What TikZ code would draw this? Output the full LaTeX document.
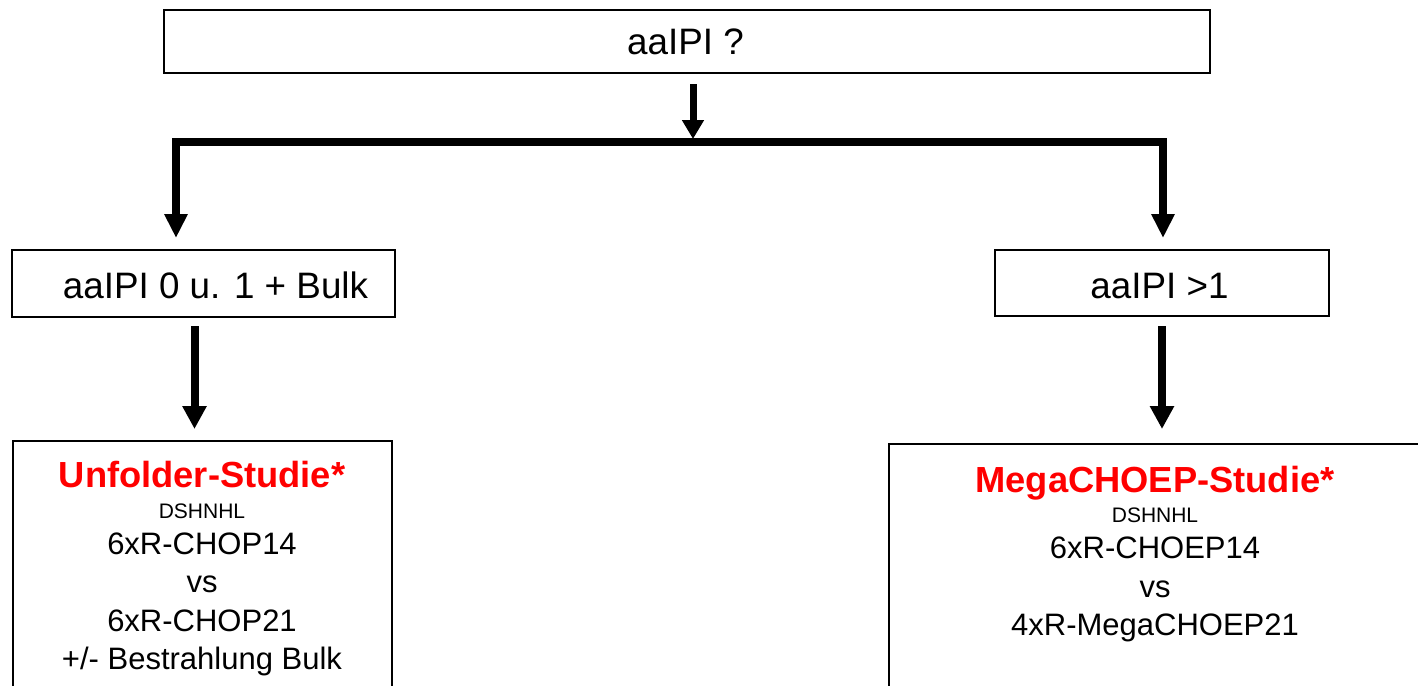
\documentclass[tikz,border=0pt]{standalone}
\usepackage{fontspec}
\setmainfont{Liberation Sans}
\usetikzlibrary{arrows.meta}
\definecolor{studred}{RGB}{255,0,0}
\begin{document}
\begin{tikzpicture}[x=1pt,y=-1pt,
  box/.style={draw=black,line width=2pt,inner sep=0pt},
  txt/.style={anchor=base,inner sep=0pt,font=\fontsize{31}{36}\selectfont},
  big/.style={anchor=base,inner sep=0pt,font=\fontsize{36.8}{42}\selectfont},
  ttl/.style={anchor=base,inner sep=0pt,text=studred,font=\fontsize{36.3}{42}\selectfont\bfseries},
  sml/.style={anchor=base,inner sep=0pt,font=\fontsize{21}{24}\selectfont},
  arr/.style={line width=7pt,-{Triangle[width=21pt,length=19pt]}},
  arrb/.style={line width=8pt,-{Triangle[width=23pt,length=23pt]}},
  bar/.style={line width=8pt,{Triangle[width=22pt,length=24pt]}-{Triangle[width=22pt,length=24pt]},line join=miter}]
\useasboundingbox (0,0) rectangle (1418,685);
\clip (0,0) rectangle (1418,685);
% boxes
\node[box,minimum width=1046pt,minimum height=63pt] (top) at (687,41.5) {};
\node[big] (toptxt) at (685.5,55) {aaIPI ?};
\node[box,minimum width=383pt,minimum height=67pt] (left) at (203.5,283.5) {};
\node[big] (lefttxt) at (215.5,298) {aaIPI 0 u. 1 + Bulk};
\node[box,minimum width=334pt,minimum height=66pt] (right) at (1162,283) {};
\node[big] (righttxt) at (1159.5,298) {aaIPI >1};
\node[box,minimum width=379pt,minimum height=300pt] (lbot) at (202.5,591) {};
\node[box,minimum width=540pt,minimum height=300pt] (rbot) at (1159,594) {};
% left bottom texts
\node[ttl] (l1) at (202,487) {Unfolder-Studie*};
\node[sml] (l2) at (202,518) {DSHNHL};
\node[txt] (l3) at (202,554) {6xR-CHOP14};
\node[txt] (l4) at (202,592) {vs};
\node[txt] (l5) at (202,631) {6xR-CHOP21};
\node[txt] (l6) at (202,669) {+/- Bestrahlung Bulk};
% right bottom texts
\node[ttl] (r1) at (1155,492) {MegaCHOEP-Studie*};
\node[sml] (r2) at (1155,522) {DSHNHL};
\node[txt] (r3) at (1155,558) {6xR-CHOEP14};
\node[txt] (r4) at (1155,597) {vs};
\node[txt] (r5) at (1155,635) {4xR-MegaCHOEP21};
% connectors
\coordinate (split) at (693,139);
\coordinate (lc) at (176,142);
\coordinate (rc) at (1163,142);
\coordinate (ltip) at (176,238);
\coordinate (rtip) at (1163,238);
\draw[bar] (ltip) -- (lc) -- (rc) -- (rtip);
\draw[arr] (top.south -| split) ++(0,10) -- (split);
\draw[arrb] ([yshift=-8pt]left.south -| 194.5,0) -- ([yshift=11pt]lbot.north -| 194.5,0);
\draw[arrb] ([yshift=-9pt]right.south -| 1162,0) -- ([yshift=14pt]rbot.north -| 1162,0);
\end{tikzpicture}
\end{document}
